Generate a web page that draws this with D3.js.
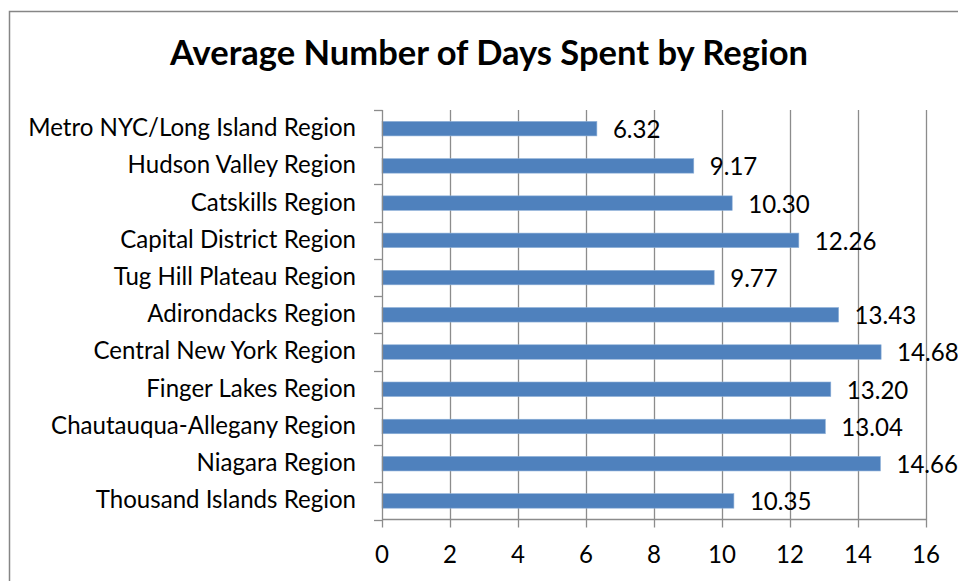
<!DOCTYPE html>
<html><head><meta charset="utf-8">
<script src="https://cdn.jsdelivr.net/npm/d3@7"></script>
<style>
html,body{margin:0;padding:0;background:#fff;}
svg{display:block;}
text{font-family:Lato,"Open Sans",sans-serif;fill:#000;}
</style></head>
<body><svg id="c" width="958" height="581"></svg>
<script>
const title = "Average Number of Days Spent by Region";
const categories = ["Metro NYC/Long Island Region","Hudson Valley Region","Catskills Region","Capital District Region","Tug Hill Plateau Region","Adirondacks Region","Central New York Region","Finger Lakes Region","Chautauqua-Allegany Region","Niagara Region","Thousand Islands Region"];
const values = [6.32, 9.17, 10.30, 12.26, 9.77, 13.43, 14.68, 13.20, 13.04, 14.66, 10.35];
const xTicks = [0,2,4,6,8,10,12,14,16];

const svg = d3.select("#c");
// frame
svg.append("path").attr("d","M9.5,600V11.5H970").attr("fill","none").attr("stroke","#868686").attr("stroke-width",1.5);

const pLeft = 382, pRight = 926, pTop = 110, pBottom = 519.5;
const x = d3.scaleLinear().domain([0,16]).range([pLeft,pRight]);
const yb = d3.scaleBand().domain(categories).range([pTop,pBottom]);

// gridlines
svg.append("g").selectAll("line").data(xTicks.slice(1)).join("line")
  .attr("x1",d=>Math.round(x(d))+0.5).attr("x2",d=>Math.round(x(d))+0.5)
  .attr("y1",pTop).attr("y2",pBottom).attr("stroke","#8c8c8c").attr("stroke-width",1.3);

// bars
svg.append("g").selectAll("rect").data(values).join("rect")
  .attr("x",x(0)).attr("y",(d,i)=>yb(categories[i])+yb.bandwidth()/2-7.2)
  .attr("width",d=>x(d)-x(0)).attr("height",14.5)
  .attr("fill","#4f81bd").attr("stroke","#8eb0d8").attr("stroke-width",0.6);

// y axis
const ya = svg.append("g").attr("transform",`translate(${pLeft},0)`);
ya.append("line").attr("x1",0.5).attr("x2",0.5).attr("y1",pTop).attr("y2",pBottom).attr("stroke","#8c8c8c").attr("stroke-width",1.3);
const bounds = categories.map(c=>yb(c)).concat([pBottom]);
ya.selectAll("line.t").data(bounds).join("line").attr("class","t")
  .attr("x1",-8).attr("x2",0.5).attr("y1",d=>Math.round(d)+0.5).attr("y2",d=>Math.round(d)+0.5)
  .attr("stroke","#8c8c8c").attr("stroke-width",1.3);
const catLabels = ya.selectAll("text").data(categories).join("text")
  .attr("x",-26).attr("y",d=>yb(d)+yb.bandwidth()/2+7.5)
  .attr("text-anchor","end").style("font-size","20px").text(d=>d);

// x axis
const xa = svg.append("g").attr("transform",`translate(0,${pBottom})`);
xa.append("line").attr("x1",pLeft).attr("x2",pRight+1).attr("y1",0).attr("y2",0).attr("stroke","#8c8c8c").attr("stroke-width",1.3);
xa.selectAll("line.t").data(xTicks).join("line").attr("class","t")
  .attr("x1",d=>Math.round(x(d))+0.5).attr("x2",d=>Math.round(x(d))+0.5).attr("y1",0).attr("y2",8)
  .attr("stroke","#8c8c8c").attr("stroke-width",1.3);
const tickLabels = xa.selectAll("text").data(xTicks).join("text")
  .attr("x",d=>x(d)).attr("y",43.5).attr("text-anchor","middle").style("font-size","20px").text(d=>d);

// value labels
const valLabels = svg.append("g").selectAll("text").data(values).join("text")
  .attr("x",d=>x(d)+16).attr("y",(d,i)=>yb(categories[i])+yb.bandwidth()/2+9.5)
  .style("font-size","20px").text(d=>d.toFixed(2));

// title
const t = svg.append("text").attr("x",489).attr("y",65).attr("text-anchor","middle")
  .style("font-size","30px").style("font-weight","bold").text(title);

// fit font sizes to reference widths
function fit(sel, target, size){
  const w = sel.node().getComputedTextLength();
  return size*target/w;
}
const catSize = fit(catLabels.filter((d,i)=>i===0), 328, 20);
catLabels.style("font-size",catSize+"px");
valLabels.style("font-size",catSize+"px");
tickLabels.style("font-size",catSize+"px");
const tSize = fit(t, 638, 30);
t.style("font-size",tSize+"px");
</script></body></html>
